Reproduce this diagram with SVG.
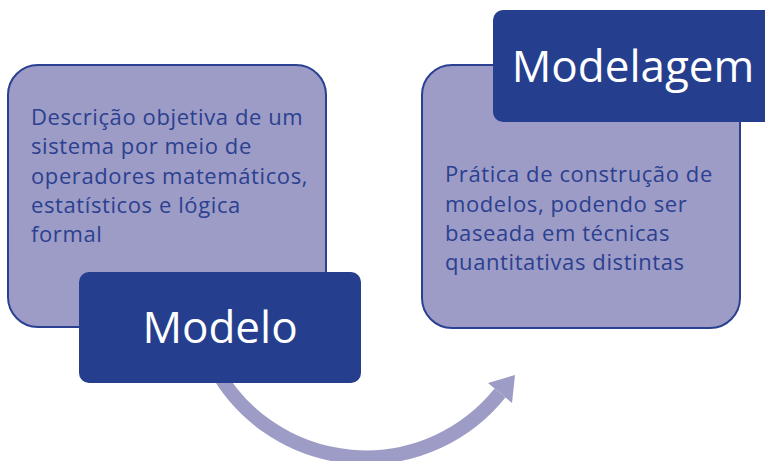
<svg xmlns="http://www.w3.org/2000/svg" width="765" height="461" viewBox="0 0 765 461">
  <style>
    .lbox { fill: #9d9cc6; stroke: #2b4090; stroke-width: 2; }
    .dbox { fill: #253f8e; }
    .body { font-family: "Open Sans", "Liberation Sans", sans-serif; font-size: 22px; fill: #2b4090; letter-spacing: 0.6px; }
    .title { font-family: "Open Sans", "Liberation Sans", sans-serif; font-size: 44px; fill: #ffffff; }
    .conn { fill: none; stroke: #9d9cc6; stroke-width: 14; }
    .head { fill: #9d9cc6; }
  </style>
  <rect width="765" height="461" fill="#ffffff"/>
  <g id="desc-modelo">
    <rect class="lbox" x="8" y="65" width="318" height="262" rx="30"/>
    <text class="body" x="31">
      <tspan x="31" y="125">Descrição objetiva de um</tspan>
      <tspan x="31" y="154">sistema por meio de</tspan>
      <tspan x="31" y="184">operadores matemáticos,</tspan>
      <tspan x="31" y="213">estatísticos e lógica</tspan>
      <tspan x="31" y="242">formal</tspan>
    </text>
  </g>
  <g id="desc-modelagem">
    <rect class="lbox" x="422" y="65" width="318" height="263" rx="30"/>
    <text class="body">
      <tspan x="445" y="182">Prática de construção de</tspan>
      <tspan x="445" y="212">modelos, podendo ser</tspan>
      <tspan x="445" y="241">baseada em técnicas</tspan>
      <tspan x="445" y="270">quantitativas distintas</tspan>
    </text>
  </g>
  <g id="connectors">
    <path class="conn" d="M 215 368 A 172 172 0 0 0 500 393"/>
    <polygon class="head" points="515,375 488,383 512,403"/>
  </g>
  <g id="modelo">
    <rect class="dbox" x="79" y="272" width="282" height="111" rx="10"/>
    <text class="title" x="220" y="343" text-anchor="middle">Modelo</text>
  </g>
  <g id="modelagem">
    <rect class="dbox" x="493" y="10" width="290" height="112" rx="10"/>
    <text class="title" x="633" y="82" text-anchor="middle">Modelagem</text>
  </g>
</svg>
